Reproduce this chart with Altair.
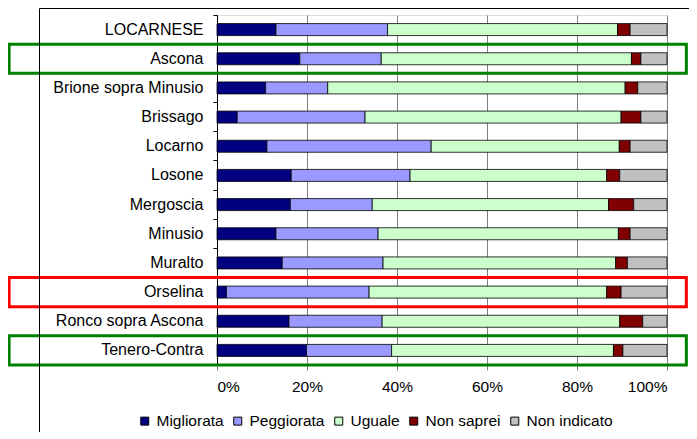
import altair as alt
import pandas as pd

categories = ["LOCARNESE", "Ascona", "Brione sopra Minusio", "Brissago", "Locarno",
              "Losone", "Mergoscia", "Minusio", "Muralto", "Orselina",
              "Ronco sopra Ascona", "Tenero-Contra"]
series = ["Migliorata", "Peggiorata", "Uguale", "Non saprei", "Non indicato"]
colors = ["#000080", "#9999FF", "#CCFFCC", "#800000", "#C0C0C0"]

migliorata = [13.1, 18.4, 10.8, 4.5, 11.1, 16.5, 16.3, 13.1, 14.5, 2.1, 16.0, 19.9]
peggiorata = [24.8, 18.1, 13.8, 28.4, 36.5, 26.4, 18.2, 22.7, 22.4, 31.7, 20.7, 18.9]
uguale = [51.1, 55.6, 66.1, 56.9, 41.8, 43.7, 52.5, 53.4, 51.7, 52.8, 52.8, 49.3]
non_saprei = [2.8, 2.1, 2.8, 4.4, 2.4, 2.9, 5.6, 2.6, 2.6, 3.2, 5.1, 2.1]
non_indicato = [8.2, 5.8, 6.5, 5.8, 8.2, 10.5, 7.4, 8.2, 8.8, 10.2, 5.4, 9.8]

x_ticks = [0, 0.2, 0.4, 0.6, 0.8, 1.0]

highlight_cats = ["Ascona", "Orselina", "Tenero-Contra"]
highlight_colors = ["#008000", "#FF0000", "#008000"]
highlight_x = [-0.462, 1.043]

FONT = "Liberation Sans"

values = [migliorata, peggiorata, uguale, non_saprei, non_indicato]
rows = []
for si, (s, vals) in enumerate(zip(series, values)):
    for c, v in zip(categories, vals):
        rows.append({"cat": c, "serie": s, "val": v, "ord": si})
df = pd.DataFrame(rows)

hl = pd.DataFrame({"cat": highlight_cats, "col": highlight_colors,
                   "x0": [highlight_x[0]] * 3, "x1": [highlight_x[1]] * 3})

yenc = alt.Y("cat:N", sort=categories, title=None,
             scale=alt.Scale(paddingInner=0, paddingOuter=0),
             axis=alt.Axis(labelFont=FONT, labelFontSize=16, labelColor="black",
                           domainColor="black", tickColor="black", tickSize=4,
                           bandPosition=0, labelPadding=10, labelLimit=300))

bars = alt.Chart(df).mark_bar(size=12, stroke="black", strokeWidth=0.8).encode(
    y=yenc,
    x=alt.X("val:Q", stack="normalize", title=None,
            scale=alt.Scale(domain=[0, 1]),
            axis=alt.Axis(values=x_ticks, format=".0%", labelFont=FONT,
                          labelFontSize=15.5, labelColor="black", grid=True,
                          gridColor="#808080", tickColor="#808080", tickSize=5,
                          domainColor="#808080", labelPadding=9)),
    color=alt.Color("serie:N", scale=alt.Scale(domain=series, range=colors),
                    legend=alt.Legend(title=None, orient="none", legendX=-80,
                                      legendY=398, direction="horizontal",
                                      columns=5, symbolType="square",
                                      symbolSize=64, symbolStrokeColor="black",
                                      symbolStrokeWidth=1, labelFont=FONT,
                                      labelFontSize=15.5, labelColor="black",
                                      labelOffset=4, columnPadding=6, padding=0)),
    order=alt.Order("ord:Q"),
)

boxes = alt.Chart(hl).mark_rect(filled=False, strokeWidth=3).encode(
    y=alt.Y("cat:N", sort=categories),
    x=alt.X("x0:Q", scale=alt.Scale(domain=[0, 1])),
    x2="x1:Q",
    stroke=alt.Stroke("col:N", scale=None),
)

frame_data = pd.DataFrame({"a": [0]})
frame_left = alt.Chart(frame_data).mark_rule(color="black", strokeWidth=1).encode(
    x=alt.value(-177.5), y=alt.value(-6.5), y2=alt.value(417))
frame_top = alt.Chart(frame_data).mark_rule(color="black", strokeWidth=1).encode(
    x=alt.value(-177.5), x2=alt.value(472), y=alt.value(-6.5))

chart = alt.layer(bars, boxes, frame_left, frame_top).properties(
    width=450, height=350,
    padding={"left": 209, "top": 7, "right": 22, "bottom": 67},
    autosize=alt.AutoSizeParams(type="none"),
).configure_view(stroke="#808080", strokeWidth=1).configure(background="white")

chart.save("out.html", embed_options={"renderer": "svg", "actions": False})
